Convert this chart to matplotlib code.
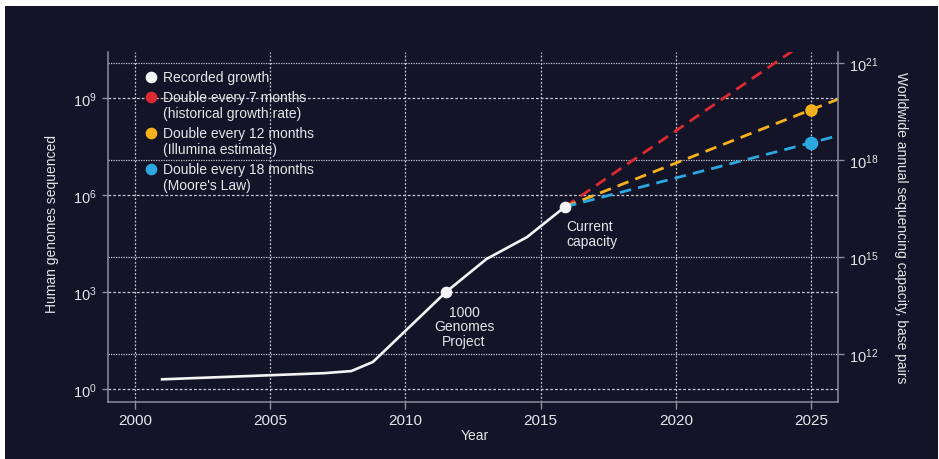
import math
import matplotlib
matplotlib.use("Agg")
import matplotlib.pyplot as plt
from matplotlib.patches import Rectangle
from matplotlib.ticker import FixedLocator, FuncFormatter, NullLocator

# ---------------------------------------------------------------
# DATA
# ---------------------------------------------------------------
recorded_years = [2001, 2007, 2008, 2008.8, 2011.5, 2013, 2014.5, 2015.9]
recorded_genomes = [2.0, 3.1, 3.6, 6.9, 1000, 1.05e4, 5.0e4, 4.3e5]

# annotated points on the recorded curve
milestone_years = [2011.5, 2015.9]
milestone_genomes = [1000, 4.3e5]
milestone_labels = ["1000\nGenomes\nProject", "Current\ncapacity"]

# projections (start = current capacity, marker at 2025, end of axis)
proj_years = [2015.9, 2025, 2026]
proj_7m = [4.3e5, 7.0e10, 2.7e11]
proj_12m = [4.3e5, 4.3e8, 9.1e8]
proj_18m = [4.3e5, 4.1e7, 6.8e7]

legend_labels = [
    ["Recorded growth"],
    ["Double every 7 months", "(historical growth rate)"],
    ["Double every 12 months", "(Illumina estimate)"],
    ["Double every 18 months", "(Moore's Law)"],
]

x_ticks = [2000, 2005, 2010, 2015, 2020, 2025]
left_exps = [0, 3, 6, 9]
right_exps = [12, 15, 18, 21]
BP_OFFSET = 10.92  # log10 shift between genome count and base pairs

# ---------------------------------------------------------------
# STYLE
# ---------------------------------------------------------------
BG = "#131428"
TXT = "#e6e6ea"
GRID = "#c9c9d2"
SPINE = "#8d8e9c"
WHITE = "#f4f4f4"
RED = "#dc2a33"
YELLOW = "#f6b21c"
BLUE = "#2aa8df"

plt.rcParams['font.family'] = ['Liberation Sans', 'DejaVu Sans']
plt.rcParams['mathtext.fontset'] = 'custom'
plt.rcParams['mathtext.rm'] = 'Liberation Sans'
plt.rcParams['mathtext.it'] = 'Liberation Sans:italic'
plt.rcParams['mathtext.bf'] = 'Liberation Sans:bold'

fig = plt.figure(figsize=(9.39, 4.60), dpi=100, facecolor="white")
fig.add_artist(Rectangle((5 / 939, 0), 933 / 939, 453 / 460,
                         transform=fig.transFigure, facecolor=BG,
                         edgecolor="none", zorder=-5))

AX_H = 350  # axes height in pixels, used for the hand-made legend
ax = fig.add_axes([108 / 939, 57 / 460, 730 / 939, AX_H / 460])
ax.set_facecolor("none")
ax.set_yscale("log")
ax.set_xlim(1999, 2026)
ax.set_ylim(10 ** -0.40, 10 ** 10.42)

# grid
for x in x_ticks:
    ax.axvline(x, color=GRID, lw=0.9, ls=(0, (1.5, 1.5)), zorder=1)
for e in left_exps:
    ax.axhline(10.0 ** e, color=GRID, lw=0.9, ls=(0, (2.2, 1.6)), zorder=1)
for e in right_exps:
    ax.axhline(10.0 ** (e - BP_OFFSET), color=GRID, lw=0.9, ls=(0, (1, 1)), zorder=1)

# projections
for vals, col, ms in [(proj_7m, RED, 0), (proj_12m, YELLOW, 8.0), (proj_18m, BLUE, 8.8)]:
    ax.plot(proj_years, vals, color=col, lw=2.0, dashes=(4.2, 2.6),
            solid_capstyle="butt", zorder=3)
    if ms:
        ax.plot(proj_years[1], vals[1], "o", color=col, ms=ms, zorder=4)

# recorded growth
ax.plot(recorded_years, recorded_genomes, color=WHITE, lw=1.9,
        solid_joinstyle="round", zorder=5)
ax.plot(milestone_years, milestone_genomes, "o", color=WHITE, ms=7.4, zorder=6)

ax.annotate(milestone_labels[0], xy=(milestone_years[0], milestone_genomes[0]),
            xytext=(13, -9), textcoords="offset points", ha="center", va="top",
            color=TXT, fontsize=10, linespacing=1.08)
ax.annotate(milestone_labels[1], xy=(milestone_years[1], milestone_genomes[1]),
            xytext=(1, -9), textcoords="offset points", ha="left", va="top",
            color=TXT, fontsize=10, linespacing=1.08)

# axes styling
for side in ["top", "right"]:
    ax.spines[side].set_visible(False)
for side in ["left", "bottom"]:
    ax.spines[side].set_color(SPINE)
    ax.spines[side].set_linewidth(1.1)

ax.xaxis.set_major_locator(FixedLocator(x_ticks))
ax.yaxis.set_major_locator(FixedLocator([10.0 ** e for e in left_exps]))
ax.yaxis.set_minor_locator(NullLocator())
sup = FuncFormatter(lambda v, p: r"$\mathregular{10^{%d}}$" % round(math.log10(v)))
ax.yaxis.set_major_formatter(sup)
ax.tick_params(axis="x", colors=SPINE, labelcolor=TXT, labelsize=11,
               length=5, width=1, pad=3)
ax.tick_params(axis="y", colors=SPINE, labelcolor=TXT, labelsize=10.5,
               length=4, width=1, pad=4)

ax.set_xlabel("Year", color=TXT, fontsize=10)
ax.set_ylabel("Human genomes sequenced", color=TXT, fontsize=10)
ax.yaxis.set_label_coords(-0.067, 0.51)
ax.xaxis.set_label_coords(0.502, -0.075)

# right axis: base pairs
ax2 = ax.twinx()
ax2.set_yscale("log")
lo, hi = ax.get_ylim()
ax2.set_ylim(lo * 10 ** BP_OFFSET, hi * 10 ** BP_OFFSET)
ax2.yaxis.set_major_locator(FixedLocator([10.0 ** e for e in right_exps]))
ax2.yaxis.set_minor_locator(NullLocator())
ax2.yaxis.set_major_formatter(sup)
for side in ["top", "left", "bottom"]:
    ax2.spines[side].set_visible(False)
ax2.spines["right"].set_color(SPINE)
ax2.spines["right"].set_linewidth(1.1)
ax2.tick_params(axis="y", colors=SPINE, labelcolor=TXT, labelsize=10.5,
                length=4, width=1, pad=4)
ax2.set_ylabel("Worldwide annual sequencing capacity, base pairs", color=TXT,
               fontsize=10, rotation=270)
ax2.yaxis.set_label_coords(1.096, 0.50)

# legend, drawn by hand so the marker sits on the first line of each entry
legend_colors = [WHITE, RED, YELLOW, BLUE]
y_px = 25  # first row, pixels below the top of the axes
for lines, col in zip(legend_labels, legend_colors):
    ax.plot([0.059], [1 - y_px / AX_H], "o", color=col, ms=7.4,
            transform=ax.transAxes, zorder=7, clip_on=False)
    for i, line in enumerate(lines):
        ax.text(0.075, 1 - (y_px + 16 * i) / AX_H, line, transform=ax.transAxes,
                color=TXT, fontsize=10, va="center", ha="left", zorder=7)
    y_px += 16 * (len(lines) - 1) + 20

fig.savefig("out.png", dpi=100, facecolor=fig.get_facecolor())
